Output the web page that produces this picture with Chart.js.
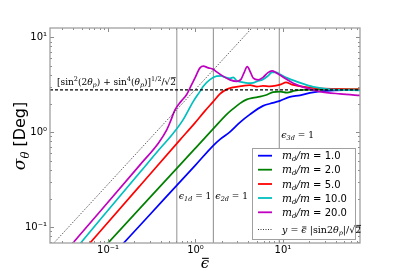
<!DOCTYPE html>
<html>
<head>
<meta charset="utf-8">
<script src="https://cdn.jsdelivr.net/npm/chart.js@4.4.0/dist/chart.umd.min.js"></script>
<style>
  html, body { margin: 0; padding: 0; background: #fff; }
  #wrap { width: 400px; height: 271px; }
</style>
</head>
<body>
<div id="wrap"><canvas id="sigmaChart" width="400" height="271"></canvas></div>
<script>
// values (x = eps bar, y = sigma_theta in deg)
const massRatios = ['1.0', '2.0', '5.0', '10.0', '20.0'];
const curveColors = ['#0000ff', '#008000', '#ff0000', '#00bfbf', '#bf00bf'];

const eps1 = [0.14, 0.3, 0.6, 1.0, 1.585, 1.905, 2.48, 3.226, 4.196, 5.909, 7.686, 9.24, 12.02, 15.65, 20.35, 26.48, 39.29, 80];
const sig1 = [0.063, 0.135, 0.27, 0.45, 0.718, 0.84, 1.007, 1.268, 1.539, 1.891, 2.034, 2.136, 2.353, 2.44, 2.593, 2.689, 2.754, 2.788];

const eps2 = [0.09, 0.3, 0.6, 1.0, 1.6, 2.273, 2.683, 3.226, 3.878, 4.541, 5.46, 6.564, 7.686, 9.24, 11.11, 13.71, 17.84, 26.48, 80];
const sig2 = [0.0612, 0.204, 0.408, 0.68, 1.088, 1.539, 1.759, 2.01, 2.214, 2.297, 2.364, 2.481, 2.637, 2.669, 2.605, 2.734, 2.788, 2.822, 2.822];

const eps5 = [0.0532, 0.081, 0.232, 0.665, 0.987, 1.284, 1.585, 1.905, 2.273, 2.683, 3.491, 4.196, 5.046, 5.909, 7.102, 8.54, 9.49, 10.82, 12.67, 15.65, 20.35, 30.2, 44.81, 80];
const sig5 = [0.0577, 0.0899, 0.273, 0.83, 1.253, 1.676, 2.084, 2.53, 2.822, 2.962, 3.072, 3.124, 3.012, 3.072, 3.034, 3.109, 3.185, 3.344, 3.162, 3.049, 2.94, 2.87, 2.836, 2.822];

const eps10 = [0.042, 0.081, 0.232, 0.393, 0.539, 0.72, 0.944, 1.126, 1.228, 1.464, 1.747, 1.956, 2.173, 2.48, 2.70, 2.981, 3.4, 3.981, 4.541, 5.046, 5.909, 6.739, 7.487, 8.318, 9.24, 11.11, 14.34, 17.84, 23.21, 34.44, 80];
const sig10 = [0.0577, 0.1193, 0.3775, 0.672, 0.937, 1.347, 2.11, 2.689, 3.049, 3.579, 3.886, 3.914, 3.794, 3.685, 3.776, 3.467, 3.36, 3.28, 3.304, 3.426, 3.596, 3.914, 4.261, 4.261, 4.059, 3.73, 3.409, 3.185, 2.977, 2.822, 2.754];

const eps20 = [0.034, 0.081, 0.232, 0.376, 0.469, 0.525, 0.583, 0.683, 0.793, 0.888, 0.987, 1.068, 1.126, 1.228, 1.401, 1.597, 1.747, 2.078, 2.48, 2.958, 3.31, 3.584, 3.908, 4.23, 4.58, 5.221, 5.956, 6.739, 7.487, 8.428, 10.08, 13.1, 18.7, 26.48, 44.81, 80];
const sig20 = [0.0577, 0.1459, 0.4527, 0.766, 1.057, 1.347, 1.717, 2.11, 2.488, 3.072, 3.73, 4.365, 4.753, 4.951, 4.753, 4.604, 4.312, 3.867, 3.552, 3.426, 3.596, 4.209, 4.892, 4.312, 3.703, 3.552, 3.794, 4.24, 4.418, 4.209, 3.794, 3.28, 2.905, 2.676, 2.53, 2.428];

// y = eps * |sin 2theta_p| / sqrt(2)  (two end points of the straight dotted line)
const dottedEps = [0.02, 5];
const dottedSig = [0.0566, 14.15];

const plateauSig = 2.79;          // [sin^2(2θp)+sin^4(θp)]^1/2/√2
const epsMarks = [0.61, 1.6, 9.07]; // eps_1d, eps_2d, eps_3d = 1

const xRange = [0.0217, 76];
const yRange = [0.068, 12.5];
const decades = [0.01, 0.1, 1, 10, 100];
const mantissas = [1, 2, 3, 4, 5, 6, 7, 8, 9];
const tickLabels = { '0.1': '10⁻¹', '1': '10⁰', '10': '10¹' };

const SERIF = '"DejaVu Serif", "Liberation Serif", serif';
const SANS = '"DejaVu Sans", sans-serif';
const it = s => `italic ${s}px ${SERIF}`;
const rm = s => `${s}px ${SERIF}`;
const sans = s => `${s}px ${SANS}`;

function logTicks(range) {
    const out = [];
    decades.forEach(d => mantissas.forEach(m => {
        const v = +(d * m).toPrecision(3);
        if (v >= range[0] && v <= range[1]) out.push({ value: v });
    }));
    return out;
}

function isDecade(v) {
    const l = Math.log10(v);
    return Math.abs(l - Math.round(l)) < 1e-6;
}

function toPoints(xs, ys) {
    return xs.map((x, i) => ({ x: x, y: ys[i] }));
}

// draws a list of [text, font, dy, bar] runs, returns end x
function drawRuns(ctx, x, y, runs, measureOnly) {
    runs.forEach(([text, font, dy, bar]) => {
        ctx.font = font;
        const w = ctx.measureText(text).width;
        if (!measureOnly) {
            ctx.fillText(text, x, y + (dy || 0));
            if (bar) {
                const size = parseFloat(font.match(/(\d+(\.\d+)?)px/)[1]);
                const by = y + (dy || 0) - size * bar;
                ctx.fillRect(x + w * 0.15, by, w * 0.8, Math.max(0.8, size / 14));
            }
        }
        x += w;
    });
    return x;
}

const curveSets = [[eps1, sig1], [eps2, sig2], [eps5, sig5], [eps10, sig10], [eps20, sig20]];

const datasets = curveSets.map(([xs, ys], i) => ({
    label: 'md/m = ' + massRatios[i],
    data: toPoints(xs, ys),
    borderColor: curveColors[i],
    borderWidth: 1.7,
    pointRadius: 0,
    cubicInterpolationMode: 'monotone',
    clip: 0,
    order: 6 - i
}));

datasets.push({
    label: 'plateau',
    data: toPoints(xRange, [plateauSig, plateauSig]),
    borderColor: '#000',
    borderWidth: 1.3,
    borderDash: [3, 2],
    pointRadius: 0,
    clip: 0,
    order: 0
});

datasets.push({
    label: 'linear',
    data: toPoints(dottedEps, dottedSig),
    borderColor: '#000',
    borderWidth: 0.8,
    borderDash: [1, 1.5],
    pointRadius: 0,
    clip: 0,
    order: 1
});

epsMarks.forEach((e, i) => {
    datasets.push({
        label: 'mark' + i,
        data: toPoints([e, e], yRange),
        borderColor: i === 0 ? '#b4b4b4' : '#8c8c8c',
        borderWidth: i === 0 ? 1.5 : 1,
        pointRadius: 0,
        clip: 0,
        order: 8
    });
});

// frame, inside ticks, annotations, axis titles and legend
const decorations = {
    id: 'decorations',
    afterDraw(chart) {
        const { ctx, chartArea: a, scales: { x, y } } = chart;
        ctx.save();

        ctx.strokeStyle = '#8c8c8c';
        ctx.lineWidth = 1;
        ctx.beginPath();
        x.ticks.forEach(t => {
            const px = Math.round(x.getPixelForValue(t.value)) + 0.5;
            const len = isDecade(t.value) ? 4 : 2;
            ctx.moveTo(px, a.bottom); ctx.lineTo(px, a.bottom - len);
            ctx.moveTo(px, a.top); ctx.lineTo(px, a.top + len);
        });
        y.ticks.forEach(t => {
            const py = Math.round(y.getPixelForValue(t.value)) + 0.5;
            const len = isDecade(t.value) ? 4 : 2;
            ctx.moveTo(a.left, py); ctx.lineTo(a.left + len, py);
            ctx.moveTo(a.right, py); ctx.lineTo(a.right - len, py);
        });
        ctx.stroke();

        ctx.strokeStyle = '#a0a0a0';
        ctx.lineWidth = 1.3;
        ctx.strokeRect(a.left, a.top, a.right - a.left, a.bottom - a.top);

        ctx.fillStyle = '#000';
        ctx.textBaseline = 'alphabetic';

        // dashed line label
        drawRuns(ctx, 57, 85, [
            ['[sin', rm(9)], ['2', rm(6.5), -4], ['(2', rm(9)], ['θ', it(9)], ['p', it(6.5), 2],
            [') + sin', rm(9)], ['4', rm(6.5), -4], ['(', rm(9)], ['θ', it(9)], ['p', it(6.5), 2],
            [')]', rm(9)], ['1/2', rm(6.5), -4], ['/√', rm(9)], ['2', rm(9), 0, 0.85]
        ]);

        // eps = 1 markers
        const markRuns = k => [['ϵ', it(9.5)], [k, it(6.5), 2], [' = 1', rm(9)]];
        drawRuns(ctx, x.getPixelForValue(epsMarks[0]) + 2, 199, markRuns('1d'));
        drawRuns(ctx, x.getPixelForValue(epsMarks[1]) + 2, 199, markRuns('2d'));
        drawRuns(ctx, x.getPixelForValue(epsMarks[2]) + 2, 138, markRuns('3d'));

        // x title
        ctx.textAlign = 'left';
        ctx.font = it(15);
        const ew = ctx.measureText('ϵ').width;
        drawRuns(ctx, 205 - ew / 2, 268, [['ϵ', it(15), 0, 0.68]]);

        // y title
        ctx.save();
        ctx.translate(25, 136);
        ctx.rotate(-Math.PI / 2);
        const yRuns = [['σ', it(17)], ['θ', it(11.5), 4], [' [Deg]', sans(16)]];
        const yw = drawRuns(ctx, 0, 0, yRuns, true);
        drawRuns(ctx, -yw / 2, 0, yRuns);
        ctx.restore();

        // legend
        const lx = 252, ly = 148, lw = 103, lh = 91;
        ctx.fillStyle = '#fff';
        ctx.fillRect(lx, ly, lw, lh);
        ctx.strokeStyle = '#a0a0a0';
        ctx.lineWidth = 1;
        ctx.strokeRect(lx + 0.5, ly + 0.5, lw, lh);
        const rows = [155.7, 169.7, 184, 198, 212.3];
        massRatios.forEach((m, i) => {
            ctx.strokeStyle = curveColors[i];
            ctx.lineWidth = 1.8;
            ctx.setLineDash([]);
            ctx.beginPath();
            ctx.moveTo(258, rows[i]); ctx.lineTo(272, rows[i]);
            ctx.stroke();
            ctx.fillStyle = '#000';
            drawRuns(ctx, 282, rows[i] + 3.5, [
                ['m', it(10.5)], ['d', it(7), 2], ['/m', it(10.5)], [' = ' + m, sans(10)]
            ]);
        });
        ctx.strokeStyle = '#000';
        ctx.lineWidth = 0.8;
        ctx.setLineDash([1, 1.5]);
        ctx.beginPath();
        ctx.moveTo(258, 229.5); ctx.lineTo(272, 229.5);
        ctx.stroke();
        ctx.setLineDash([]);
        drawRuns(ctx, 282, 233, [
            ['y', it(9.5)], [' = ', rm(9.5)], ['ϵ', it(9.5), 0, 0.68], [' |sin2', rm(9.5)],
            ['θ', it(9.5)], ['p', it(6.5), 2], ['|/√', rm(9.5)], ['2', rm(9.5), 0, 0.85]
        ]);

        ctx.restore();
    }
};

const axisTicks = {
    autoSkip: false,
    maxRotation: 0,
    padding: 2,
    color: '#000',
    font: { family: SANS, size: 10 },
    callback: v => tickLabels[String(+v.toPrecision(3))] || ''
};

new Chart(document.getElementById('sigmaChart'), {
    type: 'line',
    data: { datasets: datasets },
    options: {
        responsive: false,
        animation: false,
        layout: { padding: { left: 0, right: 40, top: 28, bottom: 0 } },
        scales: {
            x: {
                type: 'logarithmic',
                min: xRange[0],
                max: xRange[1],
                grid: { display: false, drawTicks: false },
                border: { display: false },
                ticks: Object.assign({}, axisTicks, { padding: 1 }),
                afterBuildTicks: s => { s.ticks = logTicks(xRange); },
                afterFit: s => { s.height = 28; }
            },
            y: {
                type: 'logarithmic',
                min: yRange[0],
                max: yRange[1],
                grid: { display: false, drawTicks: false },
                border: { display: false },
                ticks: Object.assign({}, axisTicks, { padding: 3 }),
                afterBuildTicks: s => { s.ticks = logTicks(yRange); },
                afterFit: s => { s.width = 50; }
            }
        },
        plugins: {
            legend: { display: false },
            tooltip: { enabled: false }
        }
    },
    plugins: [decorations]
});
</script>
</body>
</html>
